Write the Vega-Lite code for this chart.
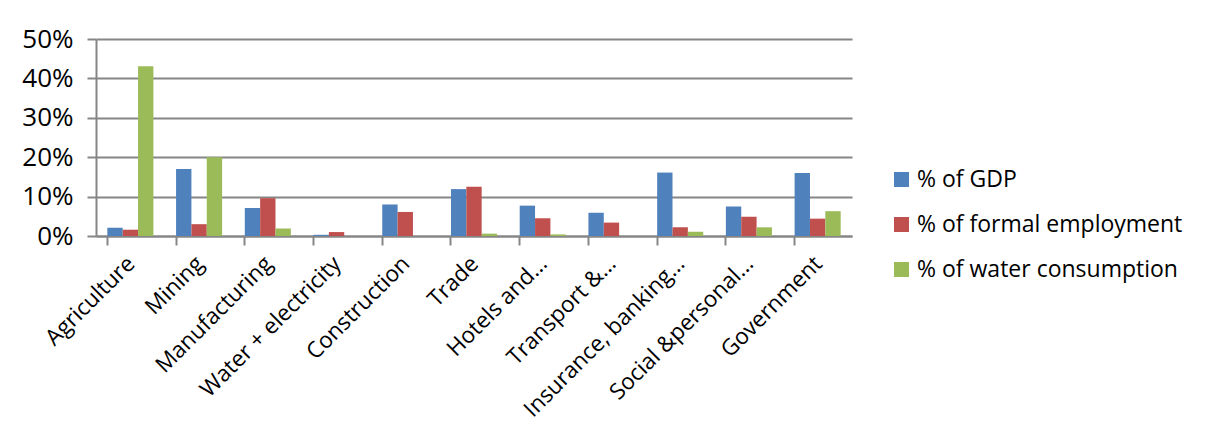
{
  "$schema": "https://vega.github.io/schema/vega-lite/v6.json",
  "autosize": {"type": "none"},
  "width": 756,
  "height": 197,
  "padding": {"left": 96, "top": 39, "right": 354, "bottom": 197},
  "background": "white",
  "config": {
    "view": {"stroke": null},
    "font": "Open Sans",
    "axis": {"labelFont": "Open Sans", "labelColor": "#000000", "domainColor": "#868686", "tickColor": "#868686", "gridColor": "#868686"}
  },
  "data": {
    "values": [
      {"sector": "Agriculture", "series": "% of GDP", "value": 0.021},
      {"sector": "Agriculture", "series": "% of formal employment", "value": 0.016},
      {"sector": "Agriculture", "series": "% of water consumption", "value": 0.431},
      {"sector": "Mining", "series": "% of GDP", "value": 0.170},
      {"sector": "Mining", "series": "% of formal employment", "value": 0.030},
      {"sector": "Mining", "series": "% of water consumption", "value": 0.200},
      {"sector": "Manufacturing", "series": "% of GDP", "value": 0.071},
      {"sector": "Manufacturing", "series": "% of formal employment", "value": 0.096},
      {"sector": "Manufacturing", "series": "% of water consumption", "value": 0.019},
      {"sector": "Water + electricity", "series": "% of GDP", "value": 0.003},
      {"sector": "Water + electricity", "series": "% of formal employment", "value": 0.010},
      {"sector": "Water + electricity", "series": "% of water consumption", "value": 0.0},
      {"sector": "Construction", "series": "% of GDP", "value": 0.080},
      {"sector": "Construction", "series": "% of formal employment", "value": 0.061},
      {"sector": "Construction", "series": "% of water consumption", "value": 0.0},
      {"sector": "Trade", "series": "% of GDP", "value": 0.119},
      {"sector": "Trade", "series": "% of formal employment", "value": 0.125},
      {"sector": "Trade", "series": "% of water consumption", "value": 0.006},
      {"sector": "Hotels and…", "series": "% of GDP", "value": 0.077},
      {"sector": "Hotels and…", "series": "% of formal employment", "value": 0.045},
      {"sector": "Hotels and…", "series": "% of water consumption", "value": 0.004},
      {"sector": "Transport &…", "series": "% of GDP", "value": 0.059},
      {"sector": "Transport &…", "series": "% of formal employment", "value": 0.034},
      {"sector": "Transport &…", "series": "% of water consumption", "value": 0.0},
      {"sector": "Insurance, banking…", "series": "% of GDP", "value": 0.161},
      {"sector": "Insurance, banking…", "series": "% of formal employment", "value": 0.022},
      {"sector": "Insurance, banking…", "series": "% of water consumption", "value": 0.011},
      {"sector": "Social &personal…", "series": "% of GDP", "value": 0.075},
      {"sector": "Social &personal…", "series": "% of formal employment", "value": 0.049},
      {"sector": "Social &personal…", "series": "% of water consumption", "value": 0.022},
      {"sector": "Government", "series": "% of GDP", "value": 0.160},
      {"sector": "Government", "series": "% of formal employment", "value": 0.044},
      {"sector": "Government", "series": "% of water consumption", "value": 0.063}
    ]
  },
  "mark": {"type": "bar"},
  "encoding": {
    "x": {
      "field": "sector", "type": "nominal", "sort": null, "title": null,
      "scale": {"paddingInner": 0.33, "paddingOuter": 0.165},
      "axis": {"labelAngle": -45, "labelFontSize": 22.5, "labelPadding": 7, "labelOffset": -7, "tickSize": 9, "bandPosition": 0, "domainWidth": 2, "tickWidth": 2, "labelLimit": 300}
    },
    "xOffset": {"field": "series", "type": "nominal", "sort": ["% of GDP", "% of formal employment", "% of water consumption"]},
    "y": {
      "field": "value", "type": "quantitative", "title": null,
      "scale": {"domain": [0, 0.5]},
      "axis": {"values": [0, 0.1, 0.2, 0.3, 0.4, 0.5], "format": ".0%", "labelFontSize": 26, "tickSize": 9, "labelPadding": 14, "domainWidth": 2, "tickWidth": 2, "gridWidth": 2}
    },
    "color": {
      "field": "series", "type": "nominal", "sort": ["% of GDP", "% of formal employment", "% of water consumption"],
      "scale": {"range": ["#4F81BD", "#C0504D", "#9BBB59"]},
      "legend": {"title": null, "orient": "none", "legendX": 794, "legendY": 129, "labelFontSize": 23, "labelLimit": 400, "symbolType": "square", "symbolSize": 225, "rowPadding": 21, "labelOffset": 4, "symbolStrokeWidth": 0}
    }
  }
}
